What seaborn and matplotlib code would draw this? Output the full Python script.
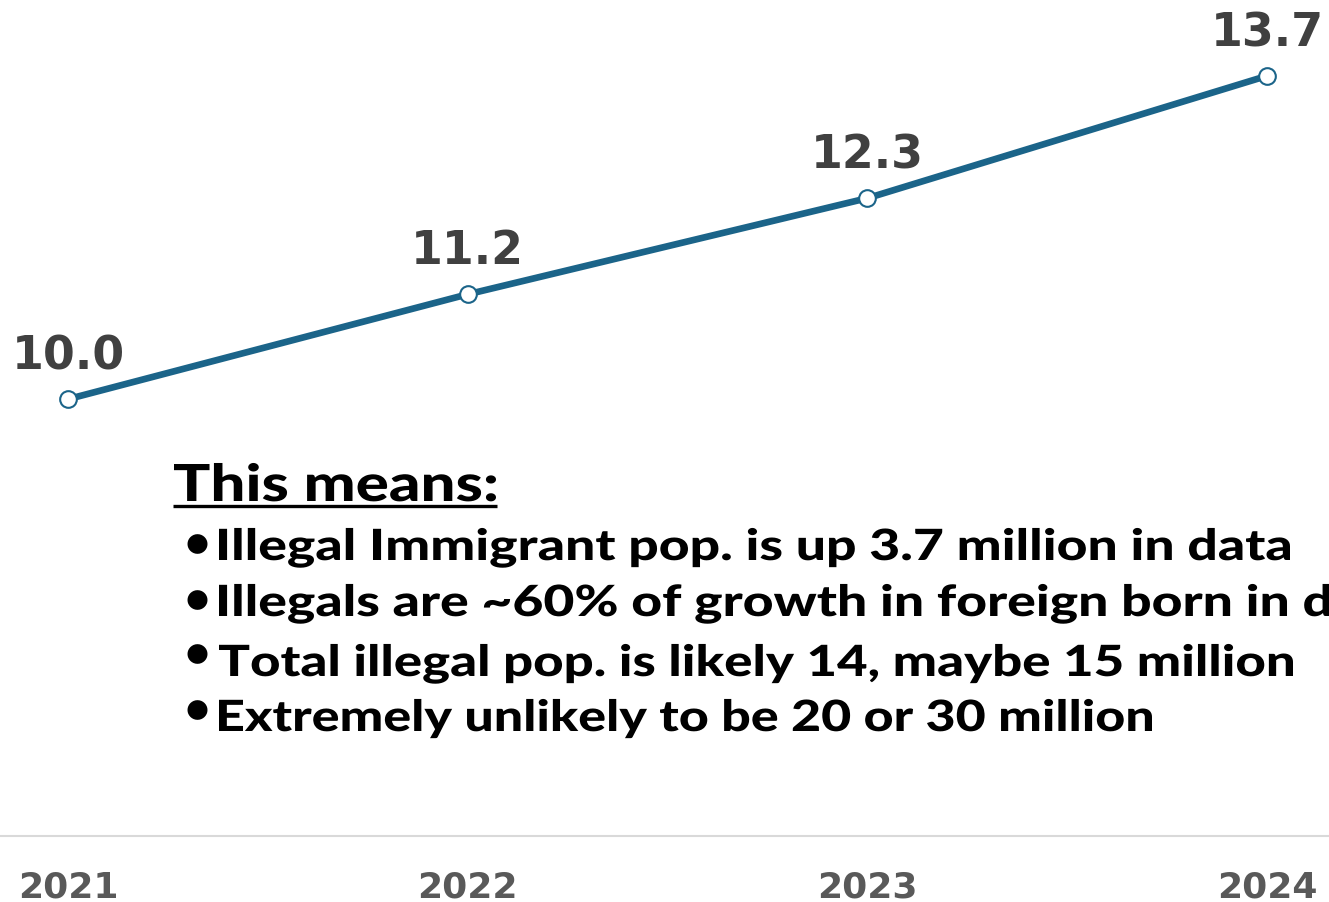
import matplotlib
matplotlib.use("Agg")
import matplotlib.pyplot as plt
import seaborn as sns
import pandas as pd
from matplotlib.lines import Line2D
from matplotlib.textpath import TextPath
from matplotlib.font_manager import FontProperties
from matplotlib.patches import PathPatch
from matplotlib.transforms import Affine2D

# data
years = [2021, 2022, 2023, 2024]
illegal_pop = [10.0, 11.2, 12.3, 13.7]
year_labels = ["2021", "2022", "2023", "2024"]

heading = "This means:"
bullets = [
    "Illegal Immigrant pop. is up 3.7 million in data",
    "Illegals are ~60% of growth in foreign born in data",
    "Total illegal pop. is likely 14, maybe 15 million",
    "Extremely unlikely to be 20 or 30 million",
]

LINE_COLOR = "#1B6489"
W, H = 1329, 903

sns.set_style("white")
plt.rcParams["font.family"] = ["DejaVu Sans"]

df = pd.DataFrame({"year": years, "pop": illegal_pop})

fig = plt.figure(figsize=(W / 100, H / 100), dpi=100)
ax = fig.add_axes([0, 0.0731, 1, 0.9269])

sns.lineplot(data=df, x="year", y="pop", ax=ax, color=LINE_COLOR, linewidth=4.8,
             marker="o", markersize=12, markerfacecolor="white",
             markeredgecolor=LINE_COLOR, markeredgewidth=1.5)

ax.set_xlim(2020.83, 2024.155)
ax.set_ylim(5.0, 14.58)

for x, y in zip(years, illegal_pop):
    ax.annotate(f"{y:.1f}", (x, y), xytext=(0, 15), textcoords="offset points",
                ha="center", va="bottom", fontsize=33, fontweight="bold",
                color="#404040", annotation_clip=False)

ax.set_xticks(years)
ax.set_xticklabels(year_labels, fontsize=26, fontweight="bold", color="#595959")
ax.set_yticks([])
ax.tick_params(axis="x", length=0, pad=24)
ax.set_xlabel("")
ax.set_ylabel("")
for side in ["left", "right", "top"]:
    ax.spines[side].set_visible(False)
ax.spines["bottom"].set_color("#D9D9D9")
ax.spines["bottom"].set_linewidth(1.5)

# the text block in the reference is a wide, heavy font -> draw it as
# horizontally stretched text paths (pixel coordinates from top-left)
fp = FontProperties(family="Lato", weight="black")


def wide_text(s, x_px, base_px, size_px, target_w=None, sx=None):
    tp = TextPath((0, 0), s, size=size_px, prop=fp)
    ext = tp.get_extents()
    if sx is None:
        sx = target_w / ext.width
    tr = Affine2D().translate(-ext.x0, 0).scale(sx, 1).translate(x_px, H - base_px)
    fig.add_artist(PathPatch(tp, transform=tr, facecolor="black", edgecolor="none"))
    return sx


def bullet(cx, cy, diam=15):
    tp = TextPath((0, 0), "•", size=40, prop=fp)
    ext = tp.get_extents()
    k = diam / ext.width
    tr = (Affine2D().translate(-(ext.x0 + ext.x1) / 2, -(ext.y0 + ext.y1) / 2)
          .scale(k, k).translate(cx, H - cy))
    fig.add_artist(PathPatch(tp, transform=tr, facecolor="black", edgecolor="none"))


wide_text(heading, 174, 502, 51, target_w=322)
fig.add_artist(Line2D([173, 497], [H - 507, H - 507], color="black", linewidth=2.4,
                      transform=Affine2D(), solid_capstyle="butt"))

baselines = [561, 617, 677, 732]
bullet_y = [545, 601, 655, 711]
line_end = [1290, None, 1293, 1152]
sx = None
for b, by, end, s in zip(baselines, bullet_y, line_end, bullets):
    bullet(197.5, by, diam=20)
    if end is not None:
        sx = wide_text(s, 219, b, 43, target_w=end - 219)
    else:
        wide_text(s, 219, b, 43, sx=sx)

fig.savefig("out.png", dpi=100)
